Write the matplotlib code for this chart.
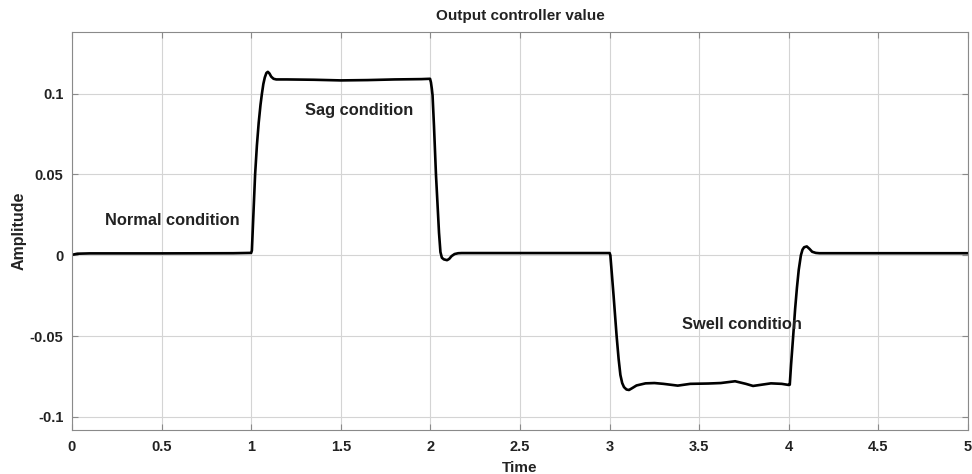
import matplotlib
matplotlib.use("Agg")
import matplotlib.pyplot as plt

plt.rcParams['font.family'] = ['Liberation Sans', 'DejaVu Sans']
plt.rcParams['font.weight'] = 'bold'

# values
time = [0, 0.03, 0.1, 0.5, 0.9, 1.0, 1.004, 1.012, 1.022, 1.032, 1.042, 1.052,
        1.06, 1.068, 1.076, 1.085, 1.093, 1.102, 1.112, 1.125, 1.14, 1.2, 1.35,
        1.5, 1.65, 1.8, 1.95, 1.998, 2.003, 2.008, 2.012, 2.02, 2.031, 2.04,
        2.048, 2.056, 2.064, 2.075, 2.093, 2.105, 2.118, 2.135, 2.155, 2.175,
        2.3, 2.6, 2.9, 3.0, 3.004, 3.012, 3.022, 3.039, 3.05, 3.06, 3.07, 3.08,
        3.094, 3.108, 3.125, 3.15, 3.2, 3.25, 3.3, 3.38, 3.45, 3.55, 3.62, 3.7,
        3.76, 3.8, 3.85, 3.9, 3.96, 4.0, 4.005, 4.012, 4.024, 4.035, 4.045,
        4.055, 4.067, 4.076, 4.085, 4.1, 4.115, 4.13, 4.15, 4.17, 4.3, 4.6, 5.0]
amplitude = [0.0003, 0.0010, 0.0012, 0.0012, 0.0013, 0.0015, 0.003, 0.024,
             0.050, 0.068, 0.082, 0.093, 0.100, 0.106, 0.110, 0.1128, 0.1135,
             0.1125, 0.1105, 0.1092, 0.1088, 0.1088, 0.1086, 0.1082, 0.1084,
             0.1088, 0.1090, 0.1092, 0.107, 0.103, 0.099, 0.080, 0.050, 0.031,
             0.014, 0.002, -0.0015, -0.0025, -0.0030, -0.0022, -0.0005, 0.0008,
             0.0013, 0.0014, 0.0014, 0.0014, 0.0014, 0.0014, 0.0, -0.011,
             -0.025, -0.050, -0.064, -0.074, -0.079, -0.0815, -0.0830, -0.0833,
             -0.0822, -0.0805, -0.0792, -0.0790, -0.0795, -0.0806, -0.0795,
             -0.0793, -0.0790, -0.0779, -0.0795, -0.0808, -0.0800, -0.0792,
             -0.0795, -0.0802, -0.0800, -0.068, -0.050, -0.033, -0.020, -0.009,
             0.0, 0.0035, 0.0050, 0.0055, 0.0040, 0.0022, 0.0015, 0.0013,
             0.0013, 0.0013, 0.0013]

x_ticks = [0, 0.5, 1, 1.5, 2, 2.5, 3, 3.5, 4, 4.5, 5]
x_labels = ['0', '0.5', '1', '1.5', '2', '2.5', '3', '3.5', '4', '4.5', '5']
y_ticks = [-0.1, -0.05, 0, 0.05, 0.1]
y_labels = ['-0.1', '-0.05', '0', '0.05', '0.1']

notes = ['Normal condition', 'Sag condition', 'Swell condition']
note_x = [0.56, 1.60, 3.74]
note_y = [0.0214, 0.0895, -0.043]

text_col = '#222222'

fig = plt.figure(figsize=(9.72, 4.74), dpi=100)
ax = fig.add_axes([0.074, 0.093, 0.922, 0.839])

ax.plot(time, amplitude, color='black', linewidth=1.9)

ax.set_xlim(0, 5)
ax.set_ylim(-0.108, 0.138)
ax.set_xticks(x_ticks)
ax.set_xticklabels(x_labels)
ax.set_yticks(y_ticks)
ax.set_yticklabels(y_labels)

ax.grid(True, color='#d4d4d4', linewidth=0.8)
ax.set_axisbelow(True)
for s in ax.spines.values():
    s.set_color('#8a8a8a')
    s.set_linewidth(0.8)
ax.tick_params(direction='in', top=True, right=True, length=4, width=0.8,
               color='#8a8a8a', labelsize=10.5, labelcolor=text_col)
ax.tick_params(axis='x', pad=7)
ax.tick_params(axis='y', pad=6)

for label, tx, ty in zip(notes, note_x, note_y):
    ax.text(tx, ty, label, ha='center', va='center', fontsize=11.8,
            fontweight='bold', color=text_col)

ax.set_title('Output controller value', fontsize=11, fontweight='bold',
             color=text_col, pad=9)
ax.set_xlabel('Time', fontsize=11, fontweight='bold', color=text_col,
              labelpad=5)
ax.set_ylabel('Amplitude', fontsize=11.5, fontweight='bold', color=text_col,
              labelpad=2)

fig.savefig('out.png', dpi=100)
